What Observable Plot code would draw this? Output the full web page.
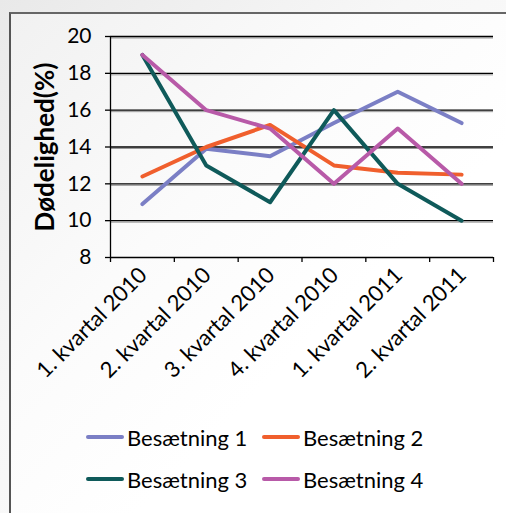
<!DOCTYPE html>
<html>
<head>
<meta charset="utf-8">
<script src="https://cdn.jsdelivr.net/npm/d3@7"></script>
<script src="https://cdn.jsdelivr.net/npm/@observablehq/plot@0.6"></script>
<style>
  html, body { margin: 0; padding: 0; }
  body {
    width: 506px; height: 513px; position: relative; overflow: hidden;
    background: linear-gradient(135deg, #e9e9e9 0%, #f7f7f7 40%, #ffffff 100%);
    font-family: Lato, "Open Sans", sans-serif;
  }
  #frame {
    position: absolute; left: 9px; top: 12px; width: 520px; height: 520px;
    border-left: 2px solid #555; border-top: 2px solid #666;
    background: linear-gradient(135deg, #f1f1f1 0%, #fbfbfb 35%, #ffffff 60%);
  }
  #chart { position: absolute; left: 0; top: 0; }
  #legend {
    position: absolute; left: 86px; top: 421px;
    display: grid; grid-template-columns: 176px 180px; row-gap: 10px;
    font-size: 22px; color: #000;
  }
  .item { display: flex; align-items: center; height: 32px; }
  .swatch { width: 38px; height: 4px; border-radius: 2px; margin-right: 3px; }
</style>
</head>
<body>
<div id="frame"></div>
<div id="chart"></div>
<div id="legend"></div>
<script>
// Quarters along the x axis
const quarters = ["1. kvartal 2010", "2. kvartal 2010", "3. kvartal 2010",
                  "4. kvartal 2010", "1. kvartal 2011", "2. kvartal 2011"];

// Mortality (%) per herd and quarter
const series = ["Besætning 1", "Besætning 2", "Besætning 3", "Besætning 4"];
const besaetning1 = [10.9, 13.9, 13.5, 15.3, 17.0, 15.3];
const besaetning2 = [12.4, 14.0, 15.2, 13.0, 12.6, 12.5];
const besaetning3 = [19.0, 13.0, 11.0, 16.0, 12.0, 10.0];
const besaetning4 = [19.0, 16.0, 15.0, 12.0, 15.0, 12.0];
const colors = ["#7b7fc5", "#f05f2d", "#0f5a5a", "#b85aa8"];

const yTicks = [8, 10, 12, 14, 16, 18, 20];
const yLabel = "Dødelighed(%)";

const values = [besaetning1, besaetning2, besaetning3, besaetning4];
const rows = series.flatMap((s, k) =>
  values[k].map((v, i) => ({series: s, pos: i + 0.5, quarter: quarters[i], value: v}))
);
const labelRows = quarters.map((q, i) => ({quarter: q, pos: i + 0.5}));
const boundaries = d3.range(quarters.length + 1);

const chart = Plot.plot({
  width: 506,
  height: 400,
  marginLeft: 110,
  marginRight: 13,
  marginTop: 36,
  marginBottom: 143,
  style: {background: "transparent", fontFamily: "Lato, 'Open Sans', sans-serif", color: "#000", overflow: "visible"},
  x: {type: "linear", domain: [0, quarters.length]},
  y: {domain: [8, 20]},
  color: {domain: series, range: colors},
  marks: [
    // soft shadow under each gridline, then the gridline itself
    Plot.ruleY(yTicks.slice(1), {stroke: "#999", strokeWidth: 1, dy: 1.5}),
    Plot.ruleY(yTicks.slice(1), {stroke: "#000", strokeWidth: 1.3}),
    Plot.axisY({ticks: yTicks, tickSize: 5, tickPadding: 14, fontSize: 21, label: null, stroke: "#000", strokeWidth: 1.3}),
    Plot.axisX({ticks: boundaries, tickSize: 5, tickFormat: () => "", label: null, stroke: "#000", strokeWidth: 1.3}),
    Plot.ruleX([0], {stroke: "#000", strokeWidth: 1.3}),
    Plot.ruleY([8], {stroke: "#000", strokeWidth: 1.3}),
    Plot.line(rows, {x: "pos", y: "value", z: "series", stroke: "series", strokeWidth: 4, strokeLinejoin: "round", strokeLinecap: "round"}),
    Plot.text(labelRows, {x: "pos", y: () => 8, text: "quarter", rotate: -45, textAnchor: "end", lineAnchor: "middle", dx: 1, dy: 14, fontSize: 22, fill: "#000"}),
    Plot.text([yLabel], {frameAnchor: "left", textAnchor: "middle", lineAnchor: "middle", rotate: -90, dx: -65, fontSize: 26, fontWeight: "bold", fill: "#000"})
  ]
});
document.getElementById("chart").appendChild(chart);

// Legend below the plot
const legend = d3.select("#legend");
series.forEach((s, k) => {
  const item = legend.append("div").attr("class", "item");
  item.append("div").attr("class", "swatch").style("background", colors[k]);
  item.append("span").text(s);
});
</script>
</body>
</html>
